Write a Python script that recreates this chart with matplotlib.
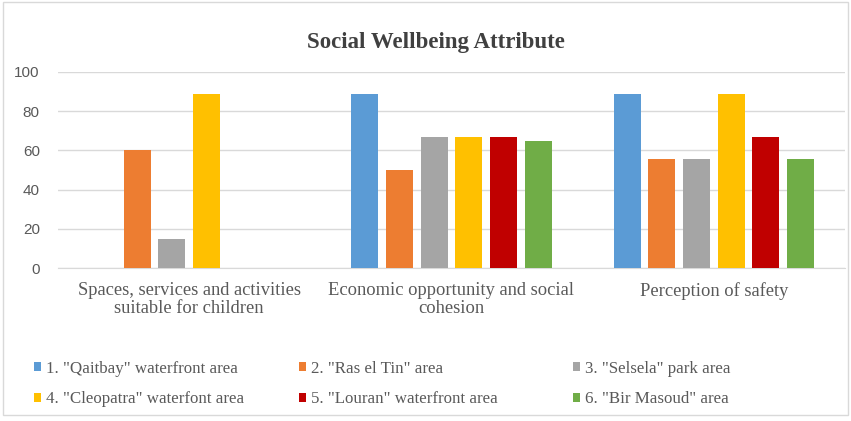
import matplotlib
matplotlib.use("Agg")
import matplotlib.pyplot as plt
import numpy as np
from matplotlib.patches import Rectangle

# ---------------------------------------------------------------------------
# Data
# ---------------------------------------------------------------------------
categories = [
    "Spaces, services and activities\nsuitable for children",
    "Economic opportunity and social\ncohesion",
    "Perception of safety",
]
series_names = [
    '1. "Qaitbay" waterfront area',
    '2. "Ras el Tin" area',
    '3. "Selsela" park area',
    '4. "Cleopatra" waterfont area',
    '5. "Louran" waterfront area',
    '6. "Bir Masoud" area',
]
qaitbay = [0, 89, 89]
ras_el_tin = [60, 50, 55.5]
selsela = [15, 66.7, 55.5]
cleopatra = [89, 66.7, 89]
louran = [0, 66.7, 66.7]
bir_masoud = [0, 65, 55.5]
yticks = [0, 20, 40, 60, 80, 100]

series_values = [qaitbay, ras_el_tin, selsela, cleopatra, louran, bir_masoud]
colors = ["#5B9BD5", "#ED7D31", "#A5A5A5", "#FFC000", "#C00000", "#70AD47"]

# ---------------------------------------------------------------------------
# Plot
# ---------------------------------------------------------------------------
fig = plt.figure(figsize=(8.51, 4.21), dpi=100)
ax = fig.add_axes([0.068, 0.3634, 0.925, 0.4656])

x = np.arange(len(categories))
slot = 0.132
width = 0.103
handles = []
for i, (vals, col) in enumerate(zip(series_values, colors)):
    b = ax.bar(x + (i - 2.5) * slot, vals, width, color=col, label=series_names[i], zorder=3)
    handles.append(b)

ax.set_xlim(-0.5, 2.5)
ax.set_ylim(0, 100)
ax.set_yticks(yticks)
ax.set_xticks(x)
ax.set_xticklabels(categories, fontfamily="Liberation Serif", fontsize=13.3, color="#595959",
                   linespacing=1.12)
for lab in ax.get_yticklabels():
    lab.set_fontfamily("Liberation Sans")
    lab.set_fontsize(11)
    lab.set_color("#595959")
ax.tick_params(axis="both", length=0)
ax.tick_params(axis="x", pad=10)
ax.tick_params(axis="y", pad=13)

ax.grid(axis="y", color="#D9D9D9", linewidth=1, zorder=0)
for s in ["top", "right", "left"]:
    ax.spines[s].set_visible(False)
ax.spines["bottom"].set_color("#D9D9D9")

fig.text(0.512, 0.9, "Social Wellbeing Attribute", ha="center", va="center",
         fontfamily="Liberation Serif", fontweight="bold", fontsize=16.5, color="#404040")

# legend: three columns placed where the reference has them (1 4 / 2 5 / 3 6)
col_x = [37 / 851, 302 / 851, 576 / 851]
for c, cx in enumerate(col_x):
    idx = [c, c + 3]
    leg = fig.legend([handles[k] for k in idx], [series_names[k] for k in idx],
                     loc="upper left", bbox_to_anchor=(cx - 0.004, 0.143),
                     bbox_transform=fig.transFigure, frameon=False,
                     prop={"family": "Liberation Serif", "size": 12.2},
                     handlelength=0.42, handleheight=0.42, handletextpad=0.3,
                     labelspacing=0.85, borderaxespad=0, borderpad=0)
    for t in leg.get_texts():
        t.set_color("#595959")

# figure border
fig.patches.append(Rectangle((0.003, 0.015), 0.994, 0.98, transform=fig.transFigure,
                             fill=False, edgecolor="#D9D9D9", linewidth=1))

fig.savefig("out.png", dpi=100)
